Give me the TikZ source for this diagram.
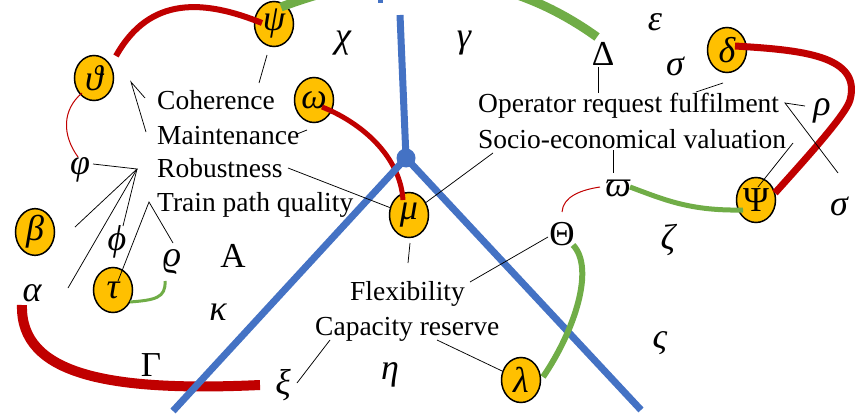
\documentclass[tikz,border=0pt]{standalone}
\usepackage{fontspec}
\setmainfont{Liberation Serif}
\usetikzlibrary{shapes.geometric}

\newcommand\grk{\fontsize{36}{40}\selectfont\itshape}
\newcommand\grkup{\fontsize{35}{40}\selectfont}
\newcommand\termsize{\fontsize{27.5}{30}\selectfont}

\begin{document}
\begin{tikzpicture}[x=1pt, y=-1pt,
  ball/.style={ellipse, draw=black, line width=1.5pt, fill=cGold,
    minimum width=39pt, minimum height=45pt, inner sep=0pt, font=\grk},
  sym/.style={inner sep=0pt, font=\grk},
  symup/.style={inner sep=0pt, font=\grkup},
  term/.style={anchor=base west, inner sep=0pt, font=\termsize},
  link/.style={line width=0.75pt},
  trail/.style={line width=#1, line cap=butt}]
  % Colours of the sketch
  \definecolor{cGold}{RGB}{255,192,0}
  \definecolor{cRed}{RGB}{192,0,0}
  \definecolor{cGreen}{RGB}{112,173,71}
  \definecolor{cBlue}{RGB}{68,114,196}

  % Canvas (pixel units, y pointing down)
  \useasboundingbox (0,0) rectangle (856,417);
  \clip (0,0) rectangle (856,417);

  % Circled symbols
  \node[ball] (psi)    at (274,24)  {ψ};
  \node[ball] (theta)  at (94,78)   {ϑ};
  \node[ball] (omega)  at (314,100) {ω};
  \node[ball] (mu)     at (409,215) {μ};
  \node[ball] (delta)  at (727,50)  {δ};
  \node[ball, font=\grkup] (Psi) at (756,200) {Ψ};
  \node[ball] (beta)   at (35,232)  {β};
  \node[ball] (tau)    at (113,290) {τ};
  \node[ball] (lambda) at (521,380) {λ};

  % Loose symbols
  \node[sym]   (chi)    at (343,43)  {χ};
  \node[sym]   (gamma)  at (464,43)  {γ};
  \node[sym]   (eps)    at (655,22)  {ε};
  \node[symup] (Delta)  at (603,54)  {Δ};
  \node[sym]   (sigA)   at (675,66)  {σ};
  \node[sym]   (rho)    at (822,111) {ρ};
  \node[sym]   (sigB)   at (839,206) {σ};
  \node[sym]   (varpi)  at (618,188) {ϖ};
  \node[symup] (Theta)  at (562,234) {Θ};
  \node[sym]   (zeta)   at (668,240) {ζ};
  \node[sym]   (fsig)   at (660,343) {ς};
  \node[sym]   (eta)    at (390,375) {η};
  \node[sym]   (xi)     at (283,385) {ξ};
  \node[symup] (Gamma)  at (151,365) {Γ};
  \node[sym]   (kappa)  at (218,312) {κ};
  \node[symup] (Alpha)  at (233,256) {A};
  \node[sym]   (varrho) at (172,262) {ϱ};
  \node[sym]   (phi)    at (117,242) {ϕ};
  \node[sym]   (alpha)  at (32,293)  {α};
  \node[sym]   (varphi) at (80,170)  {φ};

  % Criteria
  \node[term] (coh) at (157,110) {Coherence};
  \node[term] (mnt) at (157,144) {Maintenance};
  \node[term] (rob) at (157,177) {Robustness};
  \node[term] (tpq) at (157,211) {Train path quality};
  \node[term] (orf) at (478,113) {Operator request fulfilment};
  \node[term] (sev) at (478,148) {Socio-economical valuation};
  \node[term] (flx) at (350,300) {Flexibility};
  \node[term] (cap) at (315,335) {Capacity reserve};

  % Ends of the links
  \coordinate (psiLo)  at (267,55);
  \coordinate (cohUp)  at (259,83);
  \coordinate (hat)    at (131,82);
  \coordinate (hatA)   at (145,98);
  \coordinate (hatB)   at (146,132);
  \coordinate (mntEnd) at (297,134);
  \coordinate (omgLo)  at (307,130);
  \coordinate (robEnd) at (288,168);
  \coordinate (sevFt)  at (493,153);
  \coordinate (fan)    at (137,169);
  \coordinate (fanV)   at (93,164);
  \coordinate (fanB)   at (75,227);
  \coordinate (fanA)   at (68,288);
  \coordinate (fanP)   at (123,226);
  \coordinate (tpqHat) at (149,202);
  \coordinate (tauIn)  at (118,281);
  \coordinate (rhoUp)  at (173,243);
  \coordinate (muLo)   at (410,243);
  \coordinate (flxUp)  at (408,263);
  \coordinate (flxEnd) at (470,282);
  \coordinate (thtL)   at (548,237);
  \coordinate (capEnd) at (437,340);
  \coordinate (capFt)  at (330,340);
  \coordinate (xiUp)   at (297,383);
  \coordinate (orfUp)  at (598,93);
  \coordinate (dltLo)  at (598,67);
  \coordinate (orfMid) at (696,92);
  \coordinate (dtaLo)  at (723,83);
  \coordinate (orfEnd) at (785,103);
  \coordinate (rhoL)   at (805,106);
  \coordinate (sigUp)  at (838,173);
  \coordinate (sevMid) at (613,150);
  \coordinate (vpiUp)  at (613,173);
  \coordinate (sevEnd) at (793,143);
  \coordinate (PsiIn)  at (758,187);

  % Ends of the trails
  \coordinate (thtNE) at (116,56);
  \coordinate (psiW)  at (262,23);
  \coordinate (thtS)  at (82,93);
  \coordinate (vphN)  at (78,157);
  \coordinate (omgC)  at (322,107);
  \coordinate (muN)   at (403,200);
  \coordinate (dtaC)  at (735,46);
  \coordinate (PsiNE) at (775,193);
  \coordinate (vpiW)  at (600,187);
  \coordinate (thtaN) at (562,212);
  \coordinate (alpS)  at (22,305);
  \coordinate (xiW)   at (260,385);
  \coordinate (psiNE) at (281,7);
  \coordinate (dltN)  at (597,37);
  \coordinate (vpiE)  at (630,187);
  \coordinate (PsiW)  at (743,210);
  \coordinate (thtaE) at (573,245);
  \coordinate (lamE)  at (543,377);
  \coordinate (tauE)  at (130,302);
  \coordinate (rhoLo) at (165,281);

  % Red trails
  \draw[cRed, trail=6pt] (thtNE) .. controls (150,-5) and (205,0) .. (psiW);
  \draw[cRed, trail=1pt] (thtS) .. controls (62,110) and (62,135) .. (vphN);
  \draw[cRed, trail=5pt] (omgC) .. controls (360,122) and (400,155) .. (muN);
  \draw[cRed, trail=7pt] (dtaC) .. controls (800,50) and (862,55) .. (850,100)
    .. controls (846,115) and (800,165) .. (PsiNE);
  \draw[cRed, trail=1pt] (vpiW) .. controls (580,190) and (563,197) .. (thtaN);
  \draw[cRed, trail=10pt] (alpS) .. controls (20,375) and (110,392) .. (xiW);

  % Blue tracks
  \coordinate (hub) at (406,158);
  \draw[cBlue, line width=7pt] (400,15) -- (hub);
  \draw[cBlue, line width=7pt] (hub) -- (173,411);
  \draw[cBlue, line width=7pt] (hub) -- (641,410);
  \fill[cBlue] (hub) circle (9.5);
  \draw[cBlue, line width=5pt] (380,-3) -- (380,3);

  % Green trails
  \draw[cGreen, trail=9pt] (psiNE) .. controls (380,-30) and (490,-40) .. (dltN);
  \draw[cGreen, trail=5pt] (vpiE) .. controls (665,200) and (690,211) .. (PsiW);
  \draw[cGreen, trail=6pt] (thtaE) .. controls (595,268) and (575,330) .. (lamE);
  \draw[cGreen, trail=3pt] (tauE) .. controls (155,300) and (166,298) .. (rhoLo);

  % Thin links
  \draw[link] (psiLo) -- (cohUp);
  \draw[link] (hatA) -- (hat) -- (hatB);
  \draw[link] (mntEnd) -- (omgLo);
  \draw[link] (robEnd) -- (mu);
  \draw[link] (sevFt) -- (mu);
  \draw[link] (fanV) -- (fan) -- (fanB);
  \draw[link] (fan) -- (fanA);
  \draw[link] (fan) -- (fanP);
  \draw[link] (tauIn) -- (tpqHat) -- (rhoUp);
  \draw[link] (muLo) -- (flxUp);
  \draw[link] (flxEnd) -- (thtL);
  \draw[link] (capEnd) -- (lambda);
  \draw[link] (capFt) -- (xiUp);
  \draw[link] (orfUp) -- (dltLo);
  \draw[link] (orfMid) -- (dtaLo);
  \draw[link] (rhoL) -- (orfEnd) -- (sigUp);
  \draw[link] (sevMid) -- (vpiUp);
  \draw[link] (sevEnd) -- (PsiIn);
\end{tikzpicture}
\end{document}
